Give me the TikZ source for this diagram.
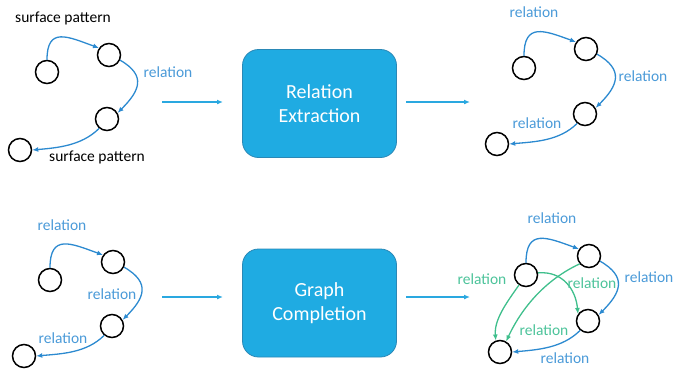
\documentclass[tikz,border=0pt]{standalone}
\usepackage{fontspec}
\setmainfont{Carlito}
\usetikzlibrary{arrows.meta}
\definecolor{edgeblue}{HTML}{2C8AD0}
\definecolor{labblue}{HTML}{4A9AD8}
\definecolor{edgegreen}{HTML}{3FBF8C}
\definecolor{labgreen}{HTML}{4CC39A}
\definecolor{boxfill}{HTML}{1FABE2}
\definecolor{boxdraw}{HTML}{2A88B6}
\definecolor{flowblue}{HTML}{2AA8E0}
\tikzset{
  ent/.style={circle,draw=black,line width=1.5pt,minimum size=23pt,inner sep=0pt},
  rel/.style={draw=edgeblue,line width=1.3pt,-{Latex[length=6pt,width=5pt]}},
  grel/.style={draw=edgegreen,line width=1.3pt,-{Latex[length=6pt,width=5pt]}},
  blab/.style={text=labblue,font=\fontsize{15.5}{17}\selectfont,inner sep=0pt},
  glab/.style={text=labgreen,font=\fontsize{15.5}{17}\selectfont,inner sep=0pt},
  klab/.style={text=black,font=\fontsize{15.5}{17}\selectfont,inner sep=0pt},
  proc/.style={rectangle,rounded corners=16pt,fill=boxfill,draw=boxdraw,line width=0.8pt,
    minimum width=154pt,minimum height=108pt,text=white,align=center,
    font=\fontsize{20}{24}\selectfont},
  flow/.style={draw=flowblue,line width=1.2pt,-{Latex[length=6pt,width=5pt]}}
}
\begin{document}
\begin{tikzpicture}[x=1pt,y=-1pt]
\useasboundingbox (0,0) rectangle (675,368);
% ---------- top left ----------
\node[ent] (a1) at (47,72) {};
\node[ent] (b1) at (109,55) {};
\node[ent] (c1) at (107,119) {};
\node[ent] (d1) at (20,150) {};
\draw[rel] (a1.north) to[out=90,in=160,looseness=1.6] (b1.145);
\draw[rel] (b1.-25) to[out=-30,in=45,looseness=1.5] (c1.30);
\draw[rel] (c1.-130) to[out=-135,in=5,looseness=0.9] (d1.east);
\node[klab] (t1) at (63,18) {surface pattern};
\node[blab] (t2) at (168,72) {relation};
\node[klab] (t3) at (97,157) {surface pattern};
% ---------- top middle ----------
\coordinate (f1s) at (162,102);
\coordinate (f1e) at (223,102);
\draw[flow] (f1s) -- (f1e);
\node[proc] (re) at (319.5,103.5) {Relation\\Extraction};
\coordinate (f2s) at (406,102);
\coordinate (f2e) at (470,102);
\draw[flow] (f2s) -- (f2e);
% ---------- top right ----------
\node[ent] (a2) at (524,68) {};
\node[ent] (b2) at (586,49) {};
\node[ent] (c2) at (585,114) {};
\node[ent] (d2) at (497,144) {};
\draw[rel] (a2.north) to[out=90,in=160,looseness=1.6] (b2.145);
\draw[rel] (b2.-25) to[out=-30,in=45,looseness=1.5] (c2.30);
\draw[rel] (c2.-130) to[out=-135,in=5,looseness=0.9] (d2.east);
\node[blab] (t4) at (534,12) {relation};
\node[blab] (t5) at (643,76) {relation};
\node[blab] (t6) at (537,123) {relation};
% ---------- bottom left ----------
\node[ent] (a3) at (50,280) {};
\node[ent] (b3) at (113,262) {};
\node[ent] (c3) at (112,326) {};
\node[ent] (d3) at (24,356) {};
\draw[rel] (a3.north) to[out=90,in=160,looseness=1.6] (b3.145);
\draw[rel] (b3.-25) to[out=-30,in=45,looseness=1.5] (c3.30);
\draw[rel] (c3.-130) to[out=-135,in=5,looseness=0.9] (d3.east);
\node[blab] (t7) at (62,225) {relation};
\node[blab] (t8) at (112,294) {relation};
\node[blab] (t9) at (63,338) {relation};
% ---------- bottom middle ----------
\coordinate (f3s) at (162,297);
\coordinate (f3e) at (223,297);
\draw[flow] (f3s) -- (f3e);
\node[proc] (gc) at (319.5,303) {Graph\\Completion};
\coordinate (f4s) at (406,297);
\coordinate (f4e) at (470,297);
\draw[flow] (f4s) -- (f4e);
% ---------- bottom right ----------
\node[ent] (a4) at (526,275) {};
\node[ent] (b4) at (589,256) {};
\node[ent] (c4) at (588,321) {};
\node[ent] (d4) at (500,352) {};
\draw[rel] (a4.north) to[out=90,in=160,looseness=1.6] (b4.145);
\draw[rel] (b4.-25) to[out=-30,in=45,looseness=1.5] (c4.30);
\draw[rel] (c4.-130) to[out=-135,in=5,looseness=0.9] (d4.east);
\draw[grel] (a4.10) to[out=5,in=95,looseness=1.1] (c4.145);
\draw[grel] (a4.-125) to[out=-125,in=95,looseness=0.9] (d4.110);
\draw[grel] (b4.-140) to[out=-155,in=65,looseness=0.9] (d4.60);
\node[blab] (t10) at (552,218) {relation};
\node[blab] (t11) at (649,277) {relation};
\node[blab] (t12) at (565,358) {relation};
\node[glab] (t13) at (482,279) {relation};
\node[glab] (t14) at (592,283) {relation};
\node[glab] (t15) at (544,330) {relation};
\end{tikzpicture}
\end{document}
